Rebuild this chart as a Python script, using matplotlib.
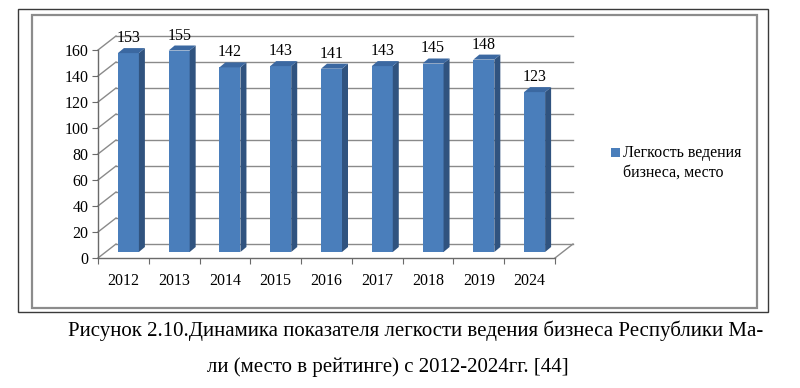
import matplotlib.pyplot as plt
from matplotlib.patches import Rectangle, Polygon

# data
years = ["2012", "2013", "2014", "2015", "2016", "2017", "2018", "2019", "2024"]
places = [153, 155, 142, 143, 141, 143, 145, 148, 123]
y_ticks = [0, 20, 40, 60, 80, 100, 120, 140, 160]
legend_lines = ["Легкость ведения", "бизнеса, место"]
caption_1 = "Рисунок 2.10.Динамика показателя легкости ведения бизнеса Республики Ма-"
caption_2 = "ли (место в рейтинге) с 2012-2024гг. [44]"

W, H = 800, 388
FONT = "Liberation Serif"


def fx(px):
    return px / W


def fy(py):
    return 1 - py / H


def main():
    plt.rcParams['font.family'] = [FONT, 'DejaVu Serif']
    fig = plt.figure(figsize=(W / 100, H / 100), dpi=100)

    # frames
    fig.add_artist(Rectangle((fx(18), fy(312)), fx(768) - fx(18), fy(9) - fy(312),
                             transform=fig.transFigure, fill=False, ec="#3a3a3a", lw=1.0))
    fig.add_artist(Rectangle((fx(32), fy(308)), fx(757) - fx(32), fy(15) - fy(308),
                             transform=fig.transFigure, fill=False, ec="#8c8c8c", lw=1.6))

    # plot area (front plane)
    left, right, bottom, top = 98, 555, 258, 50
    ax = fig.add_axes([fx(left), fy(bottom), (right - left) / W, (bottom - top) / H])
    n = len(years)
    ax.set_xlim(-0.5, n - 0.5)
    ax.set_ylim(0, 160)
    ax.patch.set_visible(False)

    sx = n / (right - left)          # data units per pixel, x
    sy = 160 / (bottom - top)        # data units per pixel, y
    bx, by = 18 * sx, 14 * sy        # depth of walls

    grid_kw = dict(color="#8a8a8a", lw=1.0, clip_on=False, zorder=1)
    x0, x1 = -0.5, n - 0.5
    for t in y_ticks:
        ax.plot([x0, x0 + bx], [t, t + by], **grid_kw)
        ax.plot([x0 + bx, x1 + bx], [t + by, t + by], **grid_kw)
    ax.plot([x1, x1 + bx], [0, by], **grid_kw)

    # bars with fake depth
    fw = 21 * sx
    ox, oy = 5 * sx, 6 * sy
    dx, dy = 6 * sx, 5 * sy
    xs = range(n)
    ax.bar([x + ox for x in xs], places, width=fw, bottom=oy,
           color="#4a7ebb", edgecolor="none", clip_on=False, zorder=3)
    for x, v in zip(xs, places):
        xl = x + ox - fw / 2
        xr = x + ox + fw / 2
        yt = v + oy
        ax.add_patch(Polygon([(xr, oy), (xr + dx, oy + dy), (xr + dx, yt + dy), (xr, yt)],
                             closed=True, fc="#30537f", ec="none", clip_on=False, zorder=3))
        ax.add_patch(Polygon([(xl, yt), (xr, yt), (xr + dx, yt + dy), (xl + dx, yt + dy)],
                             closed=True, fc="#3b68a1", ec="none", clip_on=False, zorder=3))
        ax.text(x + ox, yt + dy + 2 * sy, str(v), ha="center", va="bottom",
                fontsize=11.5, color="black", zorder=4)

    # axes
    for s in ["top", "right"]:
        ax.spines[s].set_visible(False)
    for s in ["left", "bottom"]:
        ax.spines[s].set_color("#6a6a6a")
        ax.spines[s].set_linewidth(1.0)
        ax.spines[s].set_zorder(2)
    ax.set_yticks(y_ticks)
    ax.set_yticklabels([str(t) for t in y_ticks], fontsize=11.5)
    ax.set_xticks([i - 0.5 for i in range(n + 1)])
    ax.set_xticklabels([])
    ax.set_xticks(list(xs), minor=True)
    ax.set_xticklabels(years, minor=True, fontsize=11.5)
    ax.tick_params(axis="y", direction="out", length=4, color="#6a6a6a", pad=3)
    ax.tick_params(axis="x", which="major", direction="out", length=4, color="#6a6a6a")
    ax.tick_params(axis="x", which="minor", length=0, pad=11)

    # legend
    fig.add_artist(Rectangle((fx(611), fy(157)), 9 / W, 9 / H, transform=fig.transFigure,
                             fc="#4a7ebb", ec="none"))
    fig.text(fx(623), fy(153), legend_lines[0], fontsize=11.5, va="center", ha="left")
    fig.text(fx(623), fy(173), legend_lines[1], fontsize=11.5, va="center", ha="left")

    # caption
    fig.text(fx(416), fy(331), caption_1, fontsize=15, ha="center", va="center")
    fig.text(fx(388), fy(367), caption_2, fontsize=15, ha="center", va="center")

    fig.savefig("out.png", dpi=100, facecolor="white")


if __name__ == '__main__':
    main()
